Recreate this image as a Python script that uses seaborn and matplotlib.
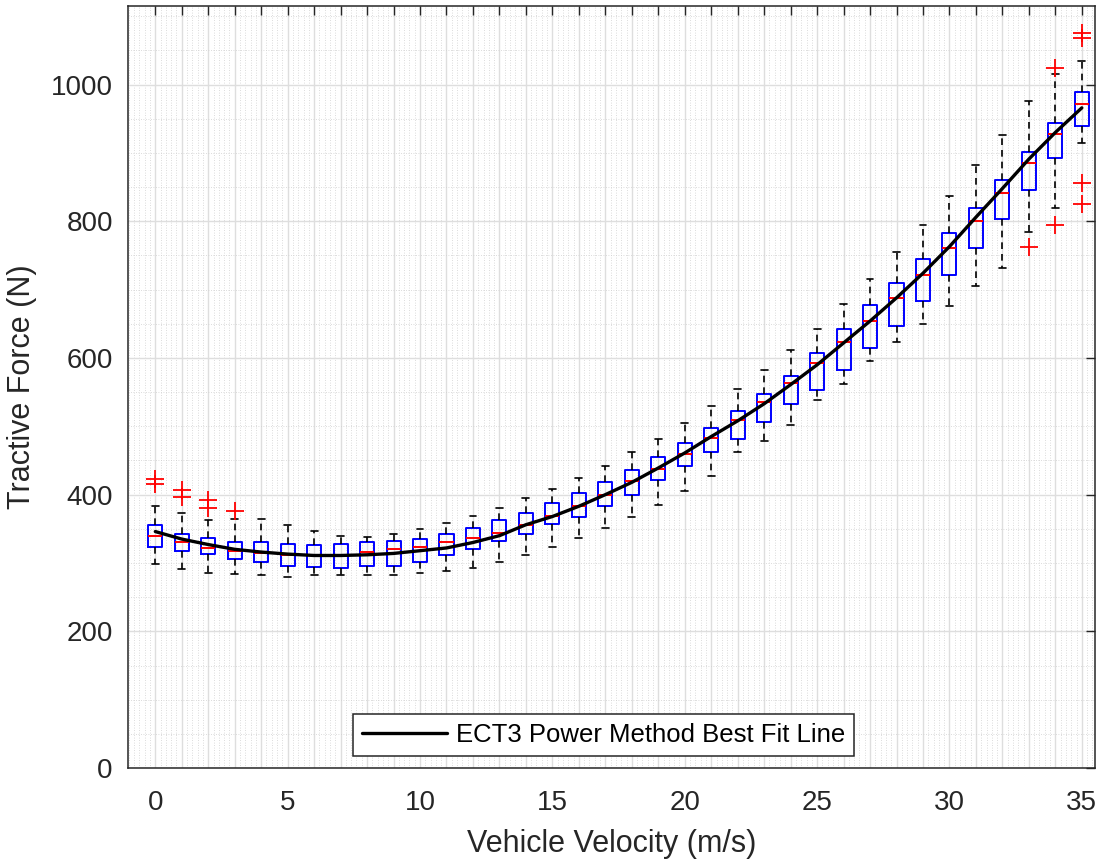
import numpy as np
import pandas as pd
import matplotlib
matplotlib.use("Agg")
import matplotlib.pyplot as plt
import seaborn as sns
from matplotlib.ticker import MultipleLocator

# ---------------- data ----------------
velocity = list(range(36))

box_q1 = [323, 318, 313, 306, 301, 296, 294, 293, 296, 296, 302, 311, 321, 332,
          343, 357, 367, 383, 400, 422, 442, 462, 482, 507, 532, 553, 582, 614,
          647, 684, 722, 761, 803, 846, 892, 940]
box_median = [340, 331, 322, 318, 314, 312, 312, 312, 316, 321, 324, 330, 337, 344,
              356, 369, 384, 400, 420, 438, 459, 483, 509, 536, 563, 593, 623, 654,
              688, 722, 761, 800, 841, 885, 928, 972]
box_q3 = [355, 343, 336, 331, 330, 328, 327, 328, 330, 332, 335, 343, 351, 363,
          373, 388, 403, 418, 436, 455, 475, 497, 522, 547, 574, 608, 642, 677,
          710, 745, 783, 820, 860, 901, 944, 989]
whisker_low = [298, 291, 286, 284, 282, 280, 283, 283, 282, 282, 285, 288, 293, 302,
               312, 324, 336, 351, 368, 385, 406, 427, 462, 479, 502, 539, 562, 595,
               624, 650, 676, 705, 732, 785, 820, 915]
whisker_high = [384, 373, 363, 365, 365, 356, 347, 340, 338, 343, 350, 359, 369, 381,
                395, 409, 425, 442, 462, 482, 505, 530, 555, 582, 611, 643, 679, 716,
                755, 795, 837, 882, 927, 976, 1016, 1034]

outlier_velocity = [0, 0, 1, 1, 2, 2, 3, 33, 34, 34, 35, 35, 35, 35]
outlier_force = [423, 416, 407, 397, 392, 380, 376, 762, 1024, 794, 1075, 1068, 856, 826]

fit_force = [346, 335, 327, 320, 316, 313, 311, 311, 312, 314, 318, 322, 330, 340,
             356, 368, 383, 400, 418, 439, 461, 485, 508, 533, 561, 590, 622, 654,
             688, 724, 763, 806, 848, 891, 930, 966]

xtick_labels = ["0", "5", "10", "15", "20", "25", "30", "35"]
ytick_values = [0, 200, 400, 600, 800, 1000]
legend_label = "ECT3 Power Method Best Fit Line"
x_label = "Vehicle Velocity (m/s)"
y_label = "Tractive Force (N)"

# ---------------- styling ----------------
sns.set_theme(style="white")
plt.rcParams["font.family"] = ["Liberation Sans", "DejaVu Sans"]
dark = "#262626"

fig = plt.figure(figsize=(11, 8.61), dpi=100)
ax = fig.add_axes([0.1164, 0.1080, 0.8791, 0.8850])
ax.set_facecolor("white")

# boxes
stats = []
for i, v in enumerate(velocity):
    fl = [f for ov, f in zip(outlier_velocity, outlier_force) if ov == v]
    stats.append(dict(med=box_median[i], q1=box_q1[i], q3=box_q3[i],
                      whislo=whisker_low[i], whishi=whisker_high[i], fliers=fl))
ax.bxp(stats, positions=velocity, widths=0.53, capwidths=0.26, manage_ticks=False,
       boxprops=dict(color="#0000ff", lw=1.4),
       medianprops=dict(color="#ff0000", lw=1.4),
       whiskerprops=dict(color="black", lw=1.2, ls=(0, (4, 3))),
       capprops=dict(color="black", lw=1.2),
       flierprops=dict(marker="+", markeredgecolor="#ff0000", markersize=13,
                       markeredgewidth=1.3, linestyle="none"))

# best fit line
df_fit = pd.DataFrame({"v": velocity, "F": fit_force})
sns.lineplot(data=df_fit, x="v", y="F", color="black", lw=2.4, ax=ax,
             label=legend_label, zorder=5)

# axes limits and ticks
ax.set_xlim(-1.03, 35.5)
ax.set_ylim(0, 1115)
ax.set_xticks(velocity)
ax.set_xticklabels([str(v) if str(v) in xtick_labels else "" for v in velocity])
ax.set_yticks(ytick_values)
ax.set_yticklabels([str(v) for v in ytick_values])
ax.xaxis.set_minor_locator(MultipleLocator(0.2))
ax.yaxis.set_minor_locator(MultipleLocator(50))
ax.tick_params(which="major", direction="in", length=6.5, width=1.0, color=dark,
               top=True, right=True, labelsize=20, labelcolor=dark, pad=11)
ax.tick_params(axis="x", which="major", pad=16)
ax.tick_params(which="minor", length=0, top=True, right=True)

# grids
ax.set_axisbelow(True)
ax.grid(which="major", color="#dedede", lw=1.0, ls="-")
ax.grid(which="minor", color="#d0d0d0", lw=0.6, ls=(0, (1, 2)))

for sp in ax.spines.values():
    sp.set_color(dark)
    sp.set_linewidth(1.1)
    sp.set_visible(True)

ax.set_xlabel(x_label, fontsize=22, color=dark, labelpad=9)
ax.set_ylabel(y_label, fontsize=22, color=dark, labelpad=10)

leg = ax.legend(loc="lower center", bbox_to_anchor=(0.492, 0.0158), fontsize=18.5,
                frameon=True, fancybox=False, framealpha=1, edgecolor=dark,
                handlelength=3.3, handletextpad=0.35, borderpad=0.35, borderaxespad=0)
leg.get_frame().set_linewidth(1.1)
for t in leg.get_texts():
    t.set_color("black")

fig.savefig("out.png", dpi=100, facecolor="white")
